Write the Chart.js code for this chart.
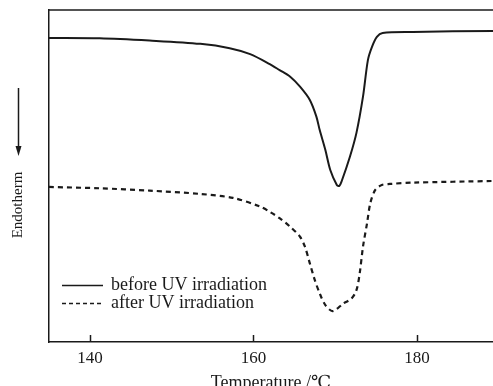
<!DOCTYPE html>
<html>
<head>
<meta charset="utf-8">
<script src="https://cdn.jsdelivr.net/npm/chart.js@4/dist/chart.umd.min.js"></script>
<style>
    html, body { margin: 0; padding: 0; background: #fff; }
    #wrap { width: 493px; height: 386px; }
</style>
</head>
<body>
<div id="wrap"><canvas id="dscChart" width="493" height="386"></canvas></div>
<script>
// Temperature (°C) and heat flow (arbitrary units, endotherm down)
const tempBefore = [135.0, 141.2, 147.3, 153.5, 157.1, 159.6, 162.0, 163.2, 164.5, 165.7, 166.9, 167.7, 168.1, 168.8, 169.4, 170.2, 170.5, 170.8, 171.8, 172.6, 173.4, 174.0, 174.5, 175.1, 175.8, 179.5, 189.3];
const flowBefore = [91.6, 91.5, 90.8, 89.8, 88.5, 86.7, 83.7, 81.9, 79.9, 76.9, 72.9, 67.9, 63.9, 57.8, 51.8, 47.3, 47.0, 48.5, 55.8, 63.0, 73.9, 84.9, 88.9, 91.9, 93.1, 93.4, 93.7];

const tempAfter = [135.0, 141.2, 147.3, 153.5, 157.5, 160.8, 162.0, 163.2, 164.5, 165.7, 166.3, 166.9, 167.5, 168.1, 168.8, 169.7, 171.0, 172.0, 172.6, 173.0, 173.4, 173.9, 174.3, 174.9, 175.7, 176.7, 179.5, 189.3];
const flowAfter = [46.7, 46.3, 45.6, 44.6, 43.4, 40.8, 39.2, 37.3, 34.7, 31.7, 28.7, 23.7, 18.7, 14.7, 11.1, 9.3, 11.6, 13.1, 15.6, 20.7, 28.7, 35.8, 41.9, 45.8, 47.3, 47.6, 48.0, 48.5];

const xTicks = [140, 160, 180];
const seriesLabels = ['before UV irradiation', 'after UV irradiation'];

const toPoints = (xs, ys) => xs.map((x, i) => ({ x: x, y: ys[i] }));

const INK = '#1a1a1a';
const SERIF = '"Liberation Serif", "DejaVu Serif", serif';

// Frame top line, inward ticks, y label with arrow, legend inside plot
const decorPlugin = {
    id: 'decor',
    afterDraw: (chart) => {
        const { ctx, chartArea } = chart;
        const xs = chart.scales.x;
        ctx.save();
        ctx.strokeStyle = INK;
        ctx.lineWidth = 1.5;

        // top border
        ctx.beginPath();
        ctx.moveTo(chartArea.left, chartArea.top);
        ctx.lineTo(chartArea.right, chartArea.top);
        ctx.stroke();

        // inward ticks
        xs.ticks.forEach(t => {
            const px = Math.round(xs.getPixelForValue(t.value)) + 0.5;
            ctx.beginPath();
            ctx.moveTo(px, chartArea.bottom);
            ctx.lineTo(px, chartArea.bottom - 7);
            ctx.stroke();
        });

        // y label
        ctx.fillStyle = INK;
        ctx.font = '15px ' + SERIF;
        ctx.textAlign = 'center';
        ctx.textBaseline = 'middle';
        ctx.save();
        ctx.translate(18, 205);
        ctx.rotate(-Math.PI / 2);
        ctx.fillText('Endotherm', 0, 0);
        ctx.restore();

        // arrow
        ctx.lineWidth = 1.5;
        ctx.beginPath();
        ctx.moveTo(18.5, 88);
        ctx.lineTo(18.5, 150);
        ctx.stroke();
        ctx.beginPath();
        ctx.moveTo(18.5, 156);
        ctx.lineTo(15.5, 146);
        ctx.lineTo(21.5, 146);
        ctx.closePath();
        ctx.fill();

        // legend
        ctx.font = '18px ' + SERIF;
        const lx = chartArea.left + 13;
        const rows = [285, 303];
        chart.data.datasets.forEach((ds, i) => {
            const y = rows[i];
            ctx.setLineDash(i === 1 ? [4, 3] : []);
            ctx.lineWidth = 1.5;
            ctx.beginPath();
            ctx.moveTo(lx, y + 0.5);
            ctx.lineTo(lx + 41, y + 0.5);
            ctx.stroke();
            ctx.setLineDash([]);
            ctx.textAlign = 'left';
            ctx.fillText(ds.label, lx + 49, y);
        });
        ctx.restore();
    }
};

new Chart(document.getElementById('dscChart'), {
    type: 'line',
    data: {
        datasets: [
            {
                label: seriesLabels[0],
                data: toPoints(tempBefore, flowBefore),
                borderColor: INK,
                borderWidth: 2,
                pointRadius: 0,
                tension: 0.3
            },
            {
                label: seriesLabels[1],
                data: toPoints(tempAfter, flowAfter),
                borderColor: INK,
                borderWidth: 2.2,
                borderDash: [5, 4],
                pointRadius: 0,
                tension: 0.3
            }
        ]
    },
    options: {
        responsive: false,
        animation: false,
        layout: { padding: { top: 10, right: 0, left: 0, bottom: 0 } },
        plugins: {
            legend: { display: false },
            tooltip: { enabled: false }
        },
        scales: {
            x: {
                type: 'linear',
                min: 135,
                max: 189.3,
                afterBuildTicks: (s) => { s.ticks = xTicks.map(v => ({ value: v })); },
                afterFit: (s) => { s.height = 44; },
                grid: { display: false, drawTicks: false },
                border: { display: true, color: INK, width: 1.5 },
                ticks: { color: INK, font: { family: SERIF, size: 17 }, padding: 6, maxRotation: 0 },
                title: {
                    display: true,
                    text: 'Temperature /℃',
                    color: INK,
                    font: { family: SERIF, size: 18 },
                    padding: { top: 0, bottom: -8 }
                }
            },
            y: {
                min: 0,
                max: 100,
                afterFit: (s) => { s.width = 49; },
                grid: { display: false, drawTicks: false },
                border: { display: true, color: INK, width: 1.5 },
                ticks: { display: false }
            }
        }
    },
    plugins: [decorPlugin]
});
</script>
</body>
</html>
